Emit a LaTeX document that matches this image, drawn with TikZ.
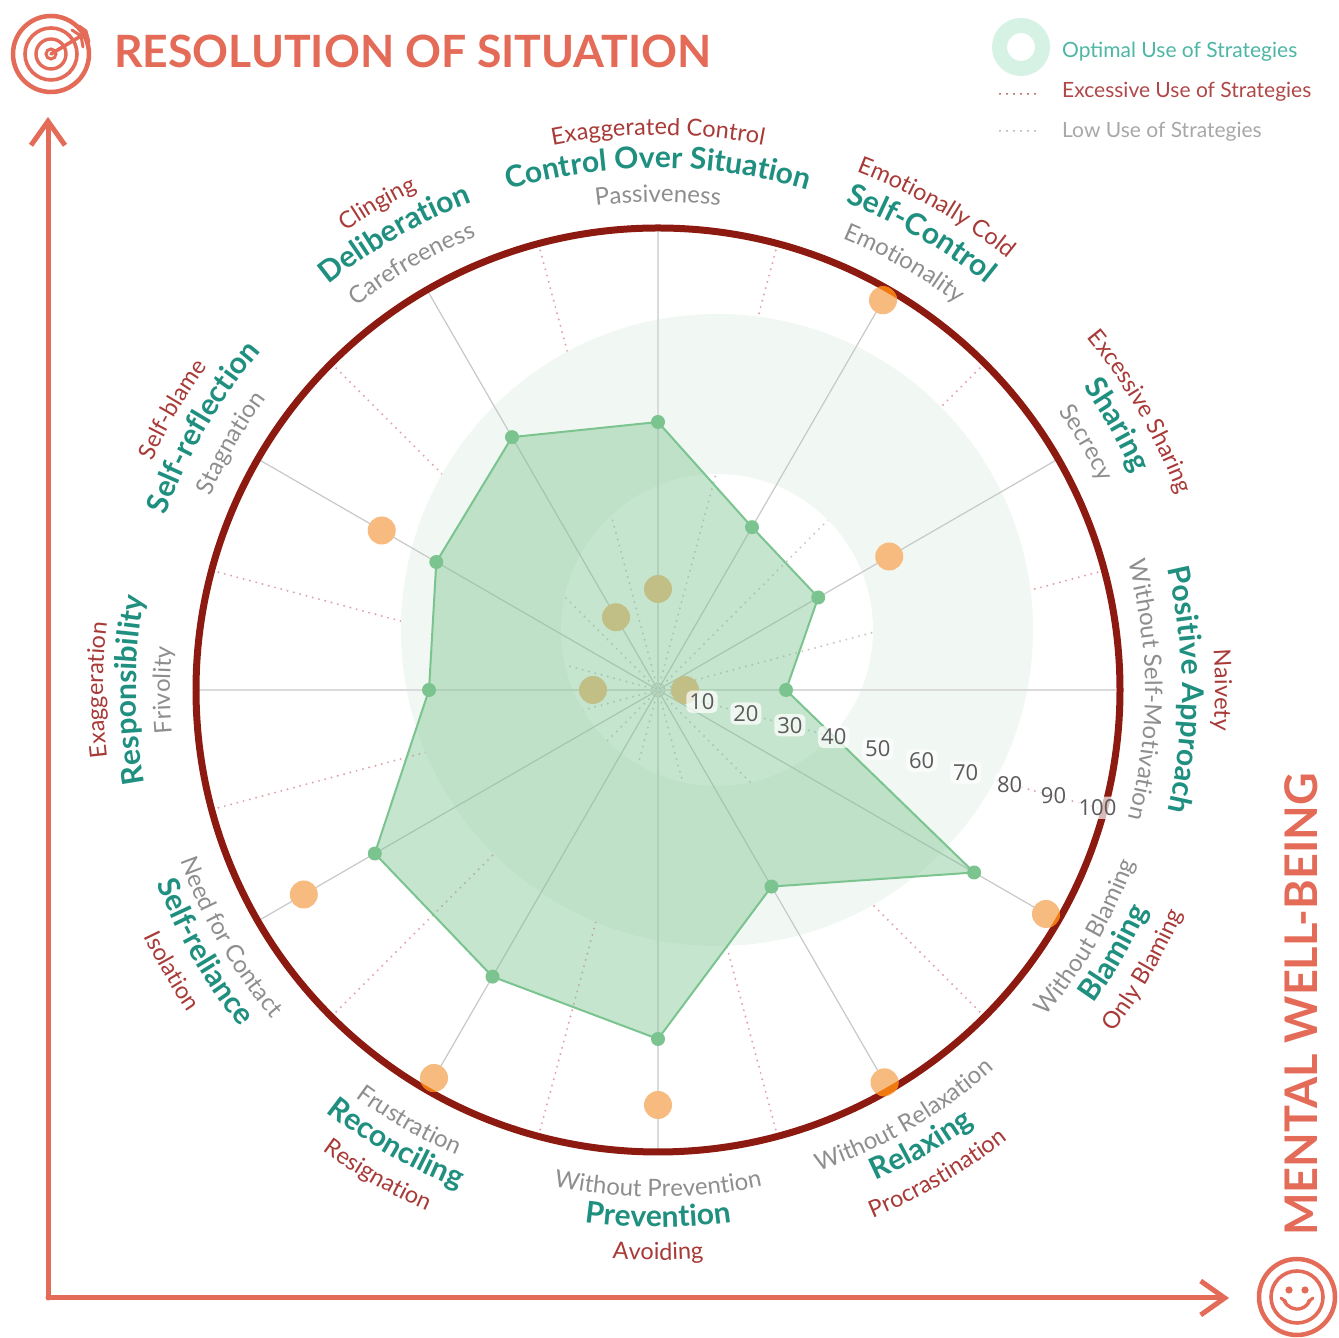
\documentclass[tikz,border=0pt]{standalone}
\usepackage{fontspec}
\setmainfont{Lato}
\newfontfamily\numfont{Open Sans}
\usetikzlibrary{decorations.text,arrows.meta,calc}
\definecolor{cTeal}{HTML}{1F8F80}
\definecolor{cRedLbl}{HTML}{A83A38}
\definecolor{cGrayLbl}{HTML}{8E8E8E}
\definecolor{cCoral}{HTML}{E36B58}
\definecolor{cCircle}{HTML}{8C1A10}
\definecolor{cOrange}{HTML}{F7BB80}
\definecolor{cOrangeDark}{HTML}{F07A10}
\definecolor{cGreen}{HTML}{7BC48F}
\definecolor{cZone}{HTML}{F1F8F4}
\definecolor{cLegRing}{HTML}{D6F2E4}
\definecolor{cPink}{HTML}{E2A3AA}
\definecolor{cLow}{HTML}{C8C8C8}
\definecolor{cAxis}{HTML}{C8C8C8}
\definecolor{cAxisMain}{HTML}{DADADA}
\definecolor{cNum}{HTML}{5A5A5A}
\definecolor{cLegTeal}{HTML}{4DB6A4}
\definecolor{cLegRed}{HTML}{B04848}
\definecolor{cLegGray}{HTML}{A8A8A8}
\newcommand\lblTeal{\color{cTeal}\bfseries\fontsize{30pt}{30pt}\selectfont}
\newcommand\lblRed{\color{cRedLbl}\fontsize{23.5pt}{24pt}\selectfont}
\newcommand\lblGray{\color{cGrayLbl}\fontsize{24pt}{24pt}\selectfont}
\newcommand\cwlabel[4]{%
  \path[decorate,decoration={text along path,text align=center,text={|#3|#4}}]
    ({#1+40}:#2) arc[start angle={#1+40},end angle={#1-40},radius=#2];}
\newcommand\ccwlabel[4]{%
  \path[decorate,decoration={text along path,text align=center,text={|#3|#4}}]
    ({#1-40}:#2) arc[start angle={#1-40},end angle={#1+40},radius=#2];}
\tikzset{
  numlbl/.style={font=\numfont\fontsize{22pt}{22pt}\selectfont,text=cNum,fill=white,
    fill opacity=0.7,text opacity=1,rounded corners=5pt,inner sep=3pt},
  exdot/.style={cPink,line width=2.2pt,line cap=round,dash pattern=on 0pt off 6.5pt},
  lowdot/.style={cLow,line width=2.2pt,line cap=round,dash pattern=on 0pt off 6.5pt},
  legtext/.style={anchor=base west,font=\fontsize{21pt}{21pt}\selectfont,inner sep=0pt},
  iconline/.style={cCoral,line cap=round},
  axisarrow/.style={cCoral,line width=5pt,line cap=round,line join=round,
    -{Straight Barb[length=24pt,width=34pt,line width=5pt]}},
}
\begin{document}
\begin{tikzpicture}[x=1pt,y=1pt]
\useasboundingbox (0,0) rectangle (1339,1338);
\fill[white] (0,0) rectangle (1339,1338);

% ---------------- chart ----------------
\begin{scope}[shift={(658,648)}]
  \coordinate (O) at (0,0);
  \coordinate (Z) at (59,60);
  % excessive (pink dotted) lines
  \foreach \a in {15,45,...,345} \draw[exdot] (O) -- (\a:462pt);
  % optimal zone
  \fill[cZone] (Z) circle[radius=316pt];
  \fill[white] (Z) circle[radius=156pt];
  % low (gray dotted) lines
  \begin{scope}
    \clip (Z) circle[radius=156pt];
    \foreach \a in {15,45,...,345} \draw[lowdot] (O) -- (\a:300pt);
  \end{scope}
  % axes
  \foreach \a in {30,60,120,150,210,240,300,330}
    \draw[cAxis,line width=1.2pt] (O) -- (\a:462pt);
  \draw[cAxisMain,line width=2.2pt] (180:462pt) -- (0:462pt);
  \draw[cAxisMain,line width=2.2pt] (90:462pt) -- (270:462pt);
  % outer circle
  \draw[cCircle,line width=7pt] (O) circle[radius=462pt];
  % orange dots
  \foreach \a/\r [count=\i] in {90/101pt,60/450pt,30/267pt,0/27pt,-30/448pt,-60/453pt,
      -90/415pt,-120/448pt,-150/409pt,180/65pt,150/319pt,120/84pt}{
    \coordinate (q\i) at (\a:\r);
    \fill[cOrange] (q\i) circle[radius=14pt];
    \begin{scope}
      \clip (q\i) circle[radius=14pt];
      \draw[cOrangeDark,line width=7pt] (O) circle[radius=462pt];
    \end{scope}
  }
  % data polygon
  \foreach \a/\r [count=\i] in {90/268pt,60/188pt,30/185pt,0/128pt,-30/365pt,-60/227pt,
      -90/349pt,-120/331pt,-150/327pt,180/229pt,150/256pt,120/292pt}
    \coordinate (p\i) at (\a:\r);
  \filldraw[fill=cGreen,fill opacity=0.43,draw=cGreen,line width=2pt,line join=round]
    (p1) -- (p2) -- (p3) -- (p4) -- (p5) -- (p6) -- (p7) -- (p8) -- (p9) -- (p10) -- (p11) -- (p12) -- cycle;
  \foreach \i in {1,...,12} \fill[cGreen] (p\i) circle[radius=7pt];
  % scale labels
  \foreach \v in {10,20,...,100}
    \node[numlbl] (s\v) at (-15:{4.55*\v}) {\v};
  % axis labels
  \cwlabel{90}{555pt}{\lblRed}{Exaggerated Control}
  \cwlabel{90}{522pt}{\lblTeal}{Control Over Situation}
  \cwlabel{90}{488pt}{\lblGray}{Passiveness}
  \cwlabel{60}{555pt}{\lblRed}{Emotionally Cold}
  \cwlabel{60}{522pt}{\lblTeal}{Self-Control}
  \cwlabel{60}{488pt}{\lblGray}{Emotionality}
  \cwlabel{30}{555pt}{\lblRed}{Excessive Sharing}
  \cwlabel{30}{522pt}{\lblTeal}{Sharing}
  \cwlabel{30}{488pt}{\lblGray}{Secrecy}
  \cwlabel{0}{557pt}{\lblRed}{Naivety}
  \cwlabel{0}{524pt}{\lblTeal}{Positive Approach}
  \cwlabel{0}{487pt}{\lblGray}{Without Self-Motivation}
  \cwlabel{180}{555pt}{\lblRed}{Exaggeration}
  \cwlabel{180}{522pt}{\lblTeal}{Responsibility}
  \cwlabel{180}{488pt}{\lblGray}{Frivolity}
  \cwlabel{150}{555pt}{\lblRed}{Self-blame}
  \cwlabel{150}{522pt}{\lblTeal}{Self-reflection}
  \cwlabel{150}{488pt}{\lblGray}{Stagnation}
  \cwlabel{120}{555pt}{\lblRed}{Clinging}
  \cwlabel{120}{522pt}{\lblTeal}{Deliberation}
  \cwlabel{120}{488pt}{\lblGray}{Carefreeness}
  \ccwlabel{-30}{507pt}{\lblGray}{Without Blaming}
  \ccwlabel{-30}{537pt}{\lblTeal}{Blaming}
  \ccwlabel{-30}{570pt}{\lblRed}{Only Blaming}
  \ccwlabel{-60}{507pt}{\lblGray}{Without Relaxation}
  \ccwlabel{-60}{537pt}{\lblTeal}{Relaxing}
  \ccwlabel{-60}{570pt}{\lblRed}{Procrastination}
  \ccwlabel{-90}{507pt}{\lblGray}{Without Prevention}
  \ccwlabel{-90}{537pt}{\lblTeal}{Prevention}
  \ccwlabel{-90}{570pt}{\lblRed}{Avoiding}
  \ccwlabel{-120}{507pt}{\lblGray}{Frustration}
  \ccwlabel{-120}{537pt}{\lblTeal}{Reconciling}
  \ccwlabel{-120}{570pt}{\lblRed}{Resignation}
  \ccwlabel{-150}{507pt}{\lblGray}{Need for Contact}
  \ccwlabel{-150}{537pt}{\lblTeal}{Self-reliance}
  \ccwlabel{-150}{570pt}{\lblRed}{Isolation}
\end{scope}

% ---------------- frame arrows ----------------
\coordinate (org) at (48,40);
\coordinate (ytip) at (48,1221);
\coordinate (xtip) at (1229,40);
\draw[axisarrow] (org) -- (ytip);
\draw[axisarrow] (org) -- (xtip);

% ---------------- title + target icon ----------------
\node[anchor=base west,text=cCoral,inner sep=0pt,
  font=\bfseries\fontsize{44.5pt}{44.5pt}\selectfont] (title) at (114,1270) {RESOLUTION OF SITUATION};
\coordinate (tg) at (51,1284);
\draw[iconline,line width=4.5pt] (tg) circle[radius=38pt];
\draw[iconline,line width=3.6pt] (tg) circle[radius=26pt];
\draw[iconline,line width=3.4pt] (tg) circle[radius=15pt];
\draw[iconline,line width=3pt] (tg) circle[radius=5pt];
\coordinate (tgend) at ($(tg)+(30,18)$);
\draw[iconline,line width=3.6pt] (tg) -- (tgend);
\draw[iconline,line width=3pt,line join=round] ($(tgend)+(-9,6)$) -- (tgend) -- ($(tgend)+(2,-11)$);
\draw[iconline,line width=3pt,line join=round] ($(tgend)+(-2,10)$) -- ($(tgend)+(5,5)$) -- ($(tgend)+(8,-6)$);

% ---------------- well-being label + smiley ----------------
\node[anchor=base west,rotate=90,text=cCoral,inner sep=0pt,
  font=\bfseries\fontsize{45pt}{45pt}\selectfont] (wb) at (1317,102) {MENTAL WELL-BEING};
\coordinate (sm) at (1297,41);
\draw[iconline,line width=4.5pt] (sm) circle[radius=38pt];
\draw[iconline,line width=3.6pt] (sm) circle[radius=26pt];
\fill[cCoral] ($(sm)+(-8,7)$) circle[radius=3.6pt];
\fill[cCoral] ($(sm)+(8,7)$) circle[radius=3.6pt];
\draw[iconline,line width=3.4pt] ($(sm)+(-13,-3)$) arc[start angle=200,end angle=340,radius=13.8pt];
\draw[iconline,line width=3pt] ($(sm)+(-16,-1)$) -- ($(sm)+(-11,-5)$);
\draw[iconline,line width=3pt] ($(sm)+(16,-1)$) -- ($(sm)+(11,-5)$);

% ---------------- legend ----------------
\coordinate (lr) at (1021,1291);
\draw[cLegRing,line width=15pt] (lr) circle[radius=21.5pt];
\node[legtext,text=cLegTeal] (l1) at (1062,1280) {Optimal Use of Strategies};
\node[legtext,text=cLegRed] (l2) at (1062,1240) {Excessive Use of Strategies};
\node[legtext,text=cLegGray] (l3) at (1062,1200) {Low Use of Strategies};
\coordinate (d1a) at (1000,1244);
\coordinate (d1b) at (1040,1244);
\coordinate (d2a) at (1000,1207);
\coordinate (d2b) at (1040,1207);
\draw[cLegRed,line width=2pt,line cap=round,dash pattern=on 0pt off 7pt] (d1a) -- (d1b);
\draw[cLegGray,line width=2pt,line cap=round,dash pattern=on 0pt off 7pt] (d2a) -- (d2b);
\end{tikzpicture}
\end{document}
